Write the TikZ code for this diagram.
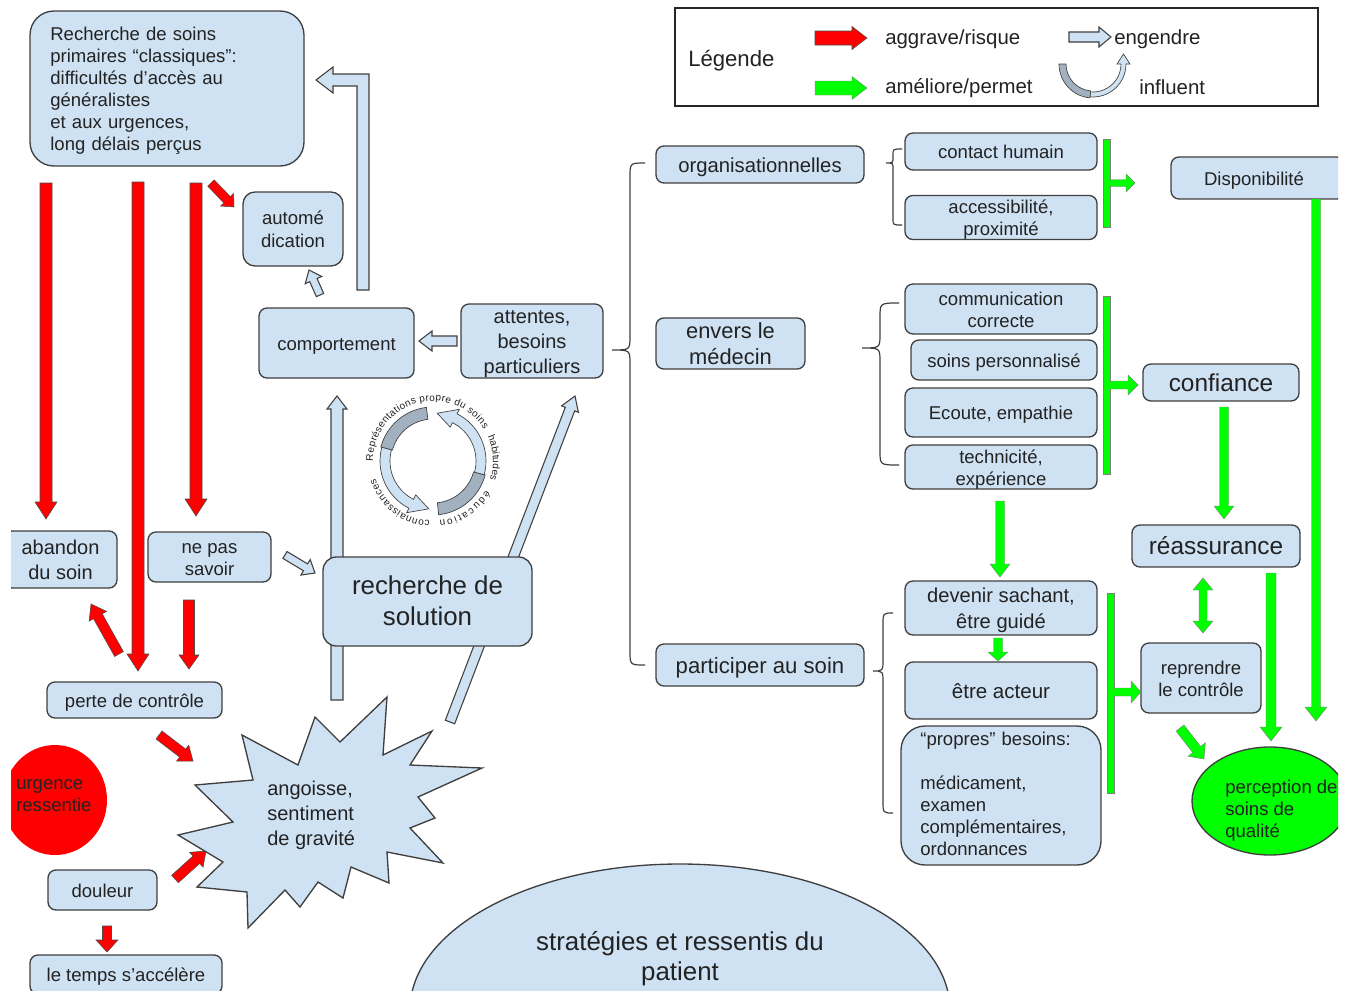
\documentclass[tikz,border=0pt]{standalone}
\usepackage{fontspec}
\setmainfont{Liberation Sans}
\usetikzlibrary{calc,decorations.text}
\definecolor{lb}{HTML}{CFE2F3}
\definecolor{bd}{HTML}{3F3F3F}
\definecolor{txt}{HTML}{222222}
\definecolor{rd}{HTML}{FF0000}
\definecolor{gn}{HTML}{00FF00}
\definecolor{dg}{HTML}{A2B1C0}
\newlength\gxtra \setlength\gxtra{4pt}
\newcommand\fs[2]{\fontsize{#1}{#2}\selectfont}
\newcommand\gstrut{\rule[-0.212em]{0pt}{\dimexpr0.905em+\gxtra\relax}}
\newcommand\gstrutb{\rule[-0.212em]{0pt}{0.905em}}
\newcommand\fatarrow[6]{%
\path[#1] let \p1=(#2), \p2=(#3), \n1={atan2(\y2-\y1,\x2-\x1)}, \n2={veclen(\x2-\x1,\y2-\y1)-#6*0.75pt} in
 ($(\p1)+(\n1+90:#4*0.75pt)$) -- ($(\p1)+(\n1:\n2)+(\n1+90:#4*0.75pt)$) -- ($(\p1)+(\n1:\n2)+(\n1+90:#5*0.75pt)$) -- (\p2) -- ($(\p1)+(\n1:\n2)+(\n1-90:#5*0.75pt)$) -- ($(\p1)+(\n1:\n2)+(\n1-90:#4*0.75pt)$) -- ($(\p1)+(\n1-90:#4*0.75pt)$) -- cycle;}
\newcommand\dblarrow[6]{%
\path[#1] let \p1=(#2), \p2=(#3), \n1={atan2(\y2-\y1,\x2-\x1)}, \n2={veclen(\x2-\x1,\y2-\y1)-#6*0.75pt}, \n3={#6*0.75pt} in
 (\p1) -- ($(\p1)+(\n1:\n3)+(\n1+90:#5*0.75pt)$) -- ($(\p1)+(\n1:\n3)+(\n1+90:#4*0.75pt)$) -- ($(\p1)+(\n1:\n2)+(\n1+90:#4*0.75pt)$) -- ($(\p1)+(\n1:\n2)+(\n1+90:#5*0.75pt)$) -- (\p2) -- ($(\p1)+(\n1:\n2)+(\n1-90:#5*0.75pt)$) -- ($(\p1)+(\n1:\n2)+(\n1-90:#4*0.75pt)$) -- ($(\p1)+(\n1:\n3)+(\n1-90:#4*0.75pt)$) -- ($(\p1)+(\n1:\n3)+(\n1-90:#5*0.75pt)$) -- cycle;}
\newcommand\curlyb[7]{%
 \draw[bracep] (#1,#4) .. controls (#2,#4) .. (#2,#4+#7) -- (#2,#5-#7) .. controls (#2,#5) .. (#3,#5) .. controls (#2,#5) .. (#2,#5+#7) -- (#2,#6-#7) .. controls (#2,#6) .. (#1,#6);}
\newcommand\bx[7][]{\node[box,minimum width={(#4-#2)*0.75pt},minimum height={(#5-#3)*0.75pt},#1] (#6) at ({(#2+#4)/2},{(#3+#5)/2}) {\gstrut#7\gstrutb};}
\begin{document}
\begin{tikzpicture}[x=0.75pt,y=-0.75pt,
  box/.style={draw=bd, fill=lb, line width=1pt, rounded corners=6pt, text=txt, align=center, inner sep=0pt},
  lbl/.style={text=txt, inner sep=0pt},
  redA/.style={fill=rd, draw=black!70, line width=0.4pt},
  greenA/.style={fill=gn, draw=black!50, line width=0.3pt},
  blueA/.style={fill=lb, draw=bd, line width=0.8pt},
  bracep/.style={draw=bd, line width=0.9pt},
  small/.style={font=\fs{13.9}{16.5}},
  arct/.style={decorate, decoration={text along path, text align=fit to path, text color=txt}}]
\useasboundingbox (0,0) rectangle (1354,990);
\clip (11,0) rectangle (1338,990);

% ---------- legend
\draw[black!85, line width=0.8pt] (675,8) rectangle (1318,106);
\node[lbl, anchor=west, font=\fs{16.6}{20}] (leg) at (688,61) {Légende};
\coordinate (lr1) at (815,38); \coordinate (lr2) at (867,38);
\fatarrow{redA}{lr1}{lr2}{7}{11.5}{15}
\node[lbl, anchor=west, font=\fs{15.3}{18}] (lagg) at (885,39) {aggrave/risque};
\coordinate (lb1) at (1069,37); \coordinate (lb2) at (1111,37);
\fatarrow{blueA}{lb1}{lb2}{5}{10}{12}
\node[lbl, anchor=west, font=\fs{15.3}{18}] (leng) at (1114,39) {engendre};
\coordinate (lg1) at (815,88); \coordinate (lg2) at (867,88);
\fatarrow{greenA}{lg1}{lg2}{7}{11.5}{15}
\node[lbl, anchor=west, font=\fs{15.3}{18}] (lam) at (885,88) {améliore/permet};
\begin{scope}[shift={(1093,64)}]
 \filldraw[fill=dg, draw=bd, line width=0.5pt] (180:34) arc[start angle=180,end angle=95,radius=34] -- (95:27) arc[start angle=95,end angle=180,radius=27] -- cycle;
 \filldraw[fill=lb, draw=bd, line width=0.5pt] (95:33) arc[start angle=95,end angle=0,radius=33] -- (37,0) -- (30.5,-10) -- (24,0) -- (28,0) arc[start angle=0,end angle=95,radius=28] -- cycle;
\end{scope}
\node[lbl, anchor=west, font=\fs{15.3}{18}] (linf) at (1139,87) {influent};

% ---------- light blue "engendre" arrows
\draw[blueA] (357,290) -- (369,290) -- (369,74) -- (333,74) -- (333,67) -- (316,80) -- (333,93) -- (333,86) -- (357,86) -- cycle;
\coordinate (ca1) at (320,295); \coordinate (ca2) at (309,270);
\fatarrow{blueA}{ca1}{ca2}{4}{9}{11}
\coordinate (ac1) at (457,341); \coordinate (ac2) at (419,341);
\fatarrow{blueA}{ac1}{ac2}{5}{10}{13}
\coordinate (vs1) at (337,700); \coordinate (vs2) at (337,396);
\fatarrow{blueA}{vs1}{vs2}{6}{10}{13}
\coordinate (ds1) at (450,722); \coordinate (ds2) at (575,396);
\fatarrow{blueA}{ds1}{ds2}{5}{9}{14}
\coordinate (ns1) at (285,555); \coordinate (ns2) at (315,573);
\fatarrow{blueA}{ns1}{ns2}{4}{9}{11}

% ---------- red arrows
\coordinate (r1a) at (46,183); \coordinate (r1b) at (46,519);
\fatarrow{redA}{r1a}{r1b}{6}{11}{17}
\coordinate (r2a) at (138,182); \coordinate (r2b) at (138,671);
\fatarrow{redA}{r2a}{r2b}{6}{11}{17}
\coordinate (r3a) at (196,183); \coordinate (r3b) at (196,516);
\fatarrow{redA}{r3a}{r3b}{6}{11}{17}
\coordinate (r4a) at (211,183); \coordinate (r4b) at (234,207);
\fatarrow{redA}{r4a}{r4b}{4.5}{9}{10}
\coordinate (r5a) at (119,654); \coordinate (r5b) at (91,604);
\fatarrow{redA}{r5a}{r5b}{5}{10}{14}
\coordinate (r6a) at (189,600); \coordinate (r6b) at (189,669);
\fatarrow{redA}{r6a}{r6b}{5.5}{10}{14}
\coordinate (r7a) at (159,735); \coordinate (r7b) at (193,761);
\fatarrow{redA}{r7a}{r7b}{5}{10}{13}
\coordinate (r8a) at (175,879); \coordinate (r8b) at (206,851);
\fatarrow{redA}{r8a}{r8b}{5}{10}{13}
\coordinate (r9a) at (107,926); \coordinate (r9b) at (107,952);
\fatarrow{redA}{r9a}{r9b}{4.5}{11}{12}

% ---------- left part boxes
\bx[rounded corners=18pt, text width=175pt, align=left, small]{30}{11}{304}{166}{rech}{Recherche de soins\\primaires “classiques”:\\difficultés d’accès au\\généralistes\\et aux urgences,\\long délais perçus}
\bx[rounded corners=9pt, font=\fs{13.9}{17}]{243}{192}{343}{266}{auto}{automé\\dication}
\bx[small]{259}{308}{414}{378}{comp}{comportement}
\bx[font=\fs{15}{18.4}]{461}{304}{603}{378}{att}{attentes,\\besoins\\particuliers}
\bx[rounded corners=10pt, font=\fs{19.4}{23.3}]{323}{557}{532}{646}{sol}{recherche de\\solution}
\bx[small]{148}{532}{271}{582}{nps}{ne pas\\savoir}
\bx[font=\fs{15}{18.7}]{4}{531}{117}{588}{aband}{abandon\\du soin}
\bx[small]{47}{682}{222}{718}{perte}{perte de contrôle}
\bx[small]{48}{870}{157}{910}{doul}{douleur}
\bx[small]{30}{955}{222}{994}{temps}{le temps s’accélère}

% urgence ellipse
\fill[rd] (55,800) ellipse [x radius=52, y radius=55];
\node[lbl, anchor=west, align=left, font=\fs{13.9}{16.5}] (urg) at (16,796) {urgence\\ressentie};

% starburst
\filldraw[fill=lb, draw=bd, line width=1pt] (387,697) -- (383,755) -- (432,731) -- (410,765) -- (482,768) -- (418,797) -- (435,818) -- (410,828) -- (443,863) -- (387,852) -- (389,883) -- (351,867) -- (343,898) -- (318,882) -- (300,907) -- (285,890) -- (248,928) -- (247,892) -- (197,887) -- (223,862) -- (178,835) -- (233,822) -- (195,785) -- (253,780) -- (242,735) -- (298,765) -- (315,717) -- (340,742) -- cycle;
\node[lbl, anchor=west, align=left, font=\fs{15}{18.75}] (ang) at (267,815) {angoisse,\\sentiment\\de gravité};

% bottom ellipse
\filldraw[fill=lb, draw=bd, line width=1pt] (680,1010) ellipse [x radius=270, y radius=146];
\node[lbl, align=center, font=\fs{19.4}{22.5}] (strat) at (680,959) {stratégies et ressentis du\\patient};

% ---------- cycle
\begin{scope}[shift={(433,461)}]
 \filldraw[fill=dg, draw=bd, line width=0.5pt] (263:54) arc[start angle=263, end angle=195, radius=54] -- (195:42) arc[start angle=195, end angle=263, radius=42] -- cycle;
 \filldraw[fill=lb, draw=bd, line width=0.5pt] (195:53) arc[start angle=195, end angle=117, radius=53] -- (117:58) -- (95:48) -- (117:38) -- (117:43) arc[start angle=117, end angle=195, radius=43] -- cycle;
 \filldraw[fill=dg, draw=bd, line width=0.5pt] (84:54) arc[start angle=84, end angle=15, radius=54] -- (15:42) arc[start angle=15, end angle=84, radius=42] -- cycle;
 \filldraw[fill=lb, draw=bd, line width=0.5pt] (15:53) arc[start angle=15, end angle=-63, radius=53] -- (-63:58) -- (-85:48) -- (-63:38) -- (-63:43) arc[start angle=-63, end angle=15, radius=43] -- cycle;
 \path[arct, decoration={text={|\fs{7.5}{9}|Représentations propre du soins}}] (180:60) arc[start angle=180, end angle=328, radius=60];
 \path[arct, decoration={text={|\fs{7.5}{9}|habitudes}}] (-24:60) arc[start angle=-24, end angle=18, radius=60];
 \path[arct, decoration={text={|\fs{7.5}{9}|éducation}}] (29:60) arc[start angle=29, end angle=84, radius=60];
 \path[arct, decoration={text={|\fs{7.5}{9}|connaissances}}] (93:60) arc[start angle=93, end angle=163, radius=60];
\end{scope}

% ---------- right part
\bx[font=\fs{15.2}{18}]{656}{146}{864}{183}{org}{organisationnelles}
\bx[font=\fs{16.4}{19.5}]{656}{318}{805}{369}{env}{envers le\\médecin}
\bx[font=\fs{16.6}{19}]{656}{644}{864}{686}{part}{participer au soin}
\curlyb{645}{630}{612}{163}{350}{665}{14}
\curlyb{902}{893}{886}{149}{163}{225}{6}
\curlyb{899}{880}{862}{303}{348}{465}{14}
\curlyb{893}{883}{873}{613}{671}{813}{12}

\bx[small]{905}{133}{1097}{170}{cont}{contact humain}
\bx[small]{905}{196}{1097}{239}{acc}{accessibilité,\\proximité}
\bx[small]{905}{284}{1097}{334}{comm}{communication\\correcte}
\bx[small]{911}{340}{1097}{380}{sp}{soins personnalisé}
\bx[small]{905}{388}{1097}{437}{ecou}{Ecoute, empathie}
\bx[small]{905}{448}{1097}{486}{tech}{technicité,\\expérience}
\bx[font=\fs{15.1}{18.8}]{905}{581}{1097}{635}{dev}{devenir sachant,\\être guidé}
\bx[font=\fs{15.4}{18}]{905}{662}{1097}{719}{act}{être acteur}
\bx[rounded corners=18pt, text width=121pt, align=left, small, execute at begin node={\setlength\gxtra{0pt}}]{901}{726}{1101}{865}{prop}{“propres” besoins:\\[16.5pt]médicament,\\examen\\complémentaires,\\ordonnances}
\bx[small]{1171}{157}{1345}{199}{dispo}{\hspace*{-6pt}Disponibilité}
\bx[font=\fs{18.3}{21}]{1143}{364}{1299}{401}{conf}{confiance}
\bx[font=\fs{18.3}{21}]{1132}{525}{1300}{567}{reass}{réassurance}
\bx[small]{1141}{643}{1261}{713}{repr}{reprendre\\le contrôle}

\filldraw[fill=gn, draw=bd, line width=1pt] (1270,801) ellipse [x radius=78, y radius=54];
\node[lbl, anchor=west, align=left, font=\fs{13.9}{16.5}] (perc) at (1225,811) {perception de\\soins de\\qualité};

% ---------- green arrows
\coordinate (t1a) at (1107,183); \coordinate (t1b) at (1135,183);
\fatarrow{greenA}{t1a}{t1b}{3.5}{9}{9}
\coordinate (t2a) at (1107,385); \coordinate (t2b) at (1138,385);
\fatarrow{greenA}{t2a}{t2b}{4}{10}{10}
\coordinate (t3a) at (1111,692); \coordinate (t3b) at (1141,692);
\fatarrow{greenA}{t3a}{t3b}{4}{11}{10}
\filldraw[fill=gn, draw=black!50, line width=0.3pt] (1103,139) rectangle (1110,227);
\filldraw[fill=gn, draw=black!50, line width=0.3pt] (1103,296) rectangle (1110,474);
\filldraw[fill=gn, draw=black!50, line width=0.3pt] (1107,593) rectangle (1114,793);
\fill[gn] (1109.5,180) rectangle (1112,186);
\fill[gn] (1109.5,381.5) rectangle (1112,388.5);
\fill[gn] (1113.5,688.5) rectangle (1116,695.5);

\coordinate (gd1) at (1316,199); \coordinate (gd2) at (1316,721);
\fatarrow{greenA}{gd1}{gd2}{4.5}{11}{14}
\coordinate (gc1) at (1224,407); \coordinate (gc2) at (1224,519);
\fatarrow{greenA}{gc1}{gc2}{4.5}{10}{13}
\coordinate (gt1) at (1000,501); \coordinate (gt2) at (1000,577);
\fatarrow{greenA}{gt1}{gt2}{4.5}{10}{13}
\coordinate (ge1) at (998,638); \coordinate (ge2) at (998,661);
\fatarrow{greenA}{ge1}{ge2}{4.5}{10}{9}
\coordinate (gr1) at (1203,578); \coordinate (gr2) at (1203,633);
\dblarrow{greenA}{gr1}{gr2}{4}{10}{12}
\coordinate (gp1) at (1271,573); \coordinate (gp2) at (1271,741);
\fatarrow{greenA}{gp1}{gp2}{5}{11}{14}
\coordinate (gq1) at (1180,728); \coordinate (gq2) at (1204,759);
\fatarrow{greenA}{gq1}{gq2}{5}{11}{12}
\end{tikzpicture}
\end{document}
